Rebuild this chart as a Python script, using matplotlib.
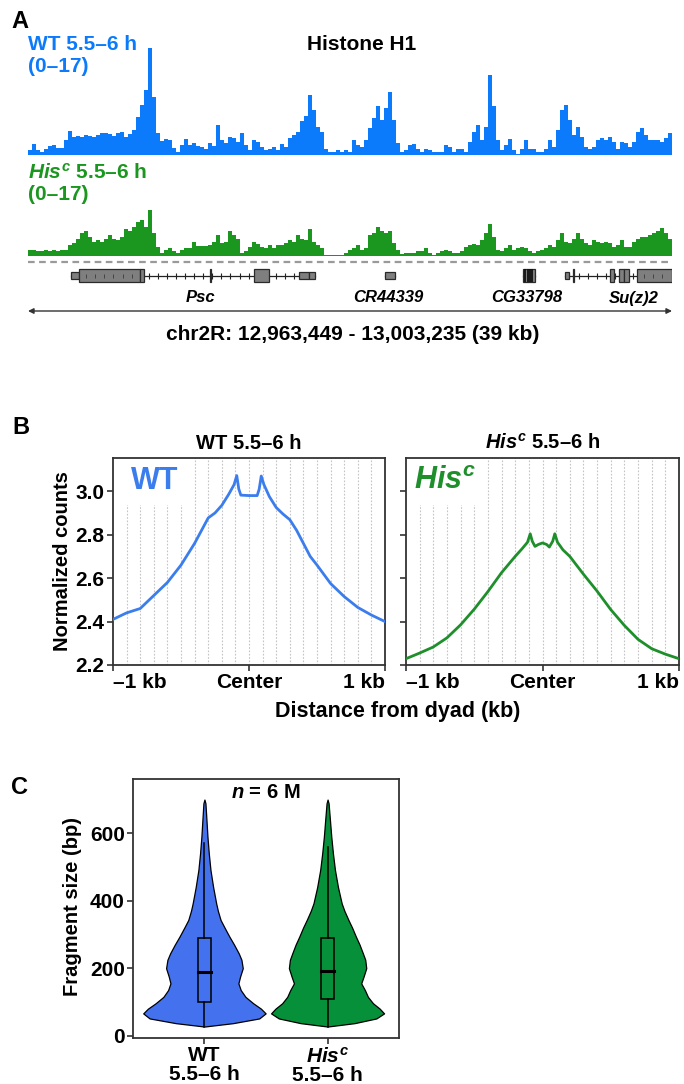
import numpy as np
import matplotlib
matplotlib.use('Agg')
import matplotlib.pyplot as plt
from matplotlib.patches import Rectangle

plt.rcParams['font.family'] = ['Liberation Sans', 'DejaVu Sans']
plt.rcParams['font.weight'] = 'bold'
plt.rcParams['mathtext.fontset'] = 'custom'
plt.rcParams['mathtext.it'] = 'Liberation Sans:italic:bold'
plt.rcParams['mathtext.rm'] = 'Liberation Sans:bold'
plt.rcParams['mathtext.bf'] = 'Liberation Sans:bold'

# ---- panel A data: coverage tracks (0-17 scale), 161 bins over the region
region_start = 12963449
region_end = 13003235
bin_bp = 247

wt_track = [0.85, 1.7, 0.8, 0.5, 0.9, 1.4, 1.5, 1.1, 1.1, 2.3,
            3.7, 2.8, 2.9, 2.8, 3.1, 2.9, 2.8, 3.1, 3.4, 3.4,
            3.3, 2.9, 3.4, 3.6, 2.8, 3.3, 3.9, 5.9, 7.8, 10.1,
            16.6, 9.0, 3.4, 2.2, 2.5, 2.3, 1.1, 0.5, 1.5, 2.5,
            1.5,
            1.8, 1.4, 1.2, 1.0, 1.8, 1.4, 4.6, 2.3, 1.8, 2.8,
            2.6, 2.0, 3.4, 1.5, 0.8, 2.3, 2.0, 1.3, 0.8, 0.9,
            1.3, 0.8, 1.7, 1.2, 2.6, 3.1, 3.6, 5.2, 6.0, 9.3,
            7.0, 4.4, 3.6, 1.0, 0.5, 0.5, 0.8, 0.5, 0.8, 0.5,
            2.3, 1.5, 1.3, 2.3, 4.1, 5.7, 7.5, 5.4, 7.2, 9.8,
            5.4, 1.8, 0.5, 0.8, 1.5, 1.7, 1.0, 0.5, 0.9, 0.8,
            0.4, 0.4, 0.5, 1.5, 1.3, 0.5, 0.9, 0.9, 0.5, 2.0,
            3.6, 4.6, 2.3, 4.4, 12.4, 7.5, 2.3, 0.8, 1.5, 2.5,
            0.8, 0.15, 1.0, 2.3, 1.0, 1.0, 0.5, 0.5, 1.0, 2.3,
            1.3, 3.9, 7.0, 7.8, 5.4, 3.1, 4.4, 2.8, 1.3, 1.0,
            1.3, 2.3, 2.6, 2.3, 2.8, 2.0, 1.0, 2.0, 1.8, 1.3,
            2.0, 3.6, 4.1, 3.1, 2.3, 2.3, 2.3, 2.0, 2.6, 3.4]

hisc_track = [1.0, 0.9, 0.8, 0.8, 0.9, 0.8, 0.9, 0.8, 0.9, 0.9,
              1.7, 2.0, 2.7, 3.5, 3.8, 3.0, 2.2, 2.5, 2.1, 2.6,
              3.2, 2.6, 2.5, 3.0, 4.1, 3.8, 4.5, 5.3, 5.5, 4.5,
              7.1, 3.5, 1.4, 0.4, 0.9, 1.2, 0.7, 0.5, 0.9, 1.3,
              1.3, 2.1, 1.5, 1.5, 1.5, 1.7, 2.1, 3.2, 2.0, 2.2,
              3.8, 3.2, 2.7, 0.4, 0.7, 1.4, 2.1, 1.9, 1.4, 1.2,
              1.7, 1.2, 1.7, 1.7, 2.0, 2.5, 2.2, 3.2, 2.7, 2.5,
              4.1, 2.2, 1.7, 1.2, 0.15, 0.15, 0.15, 0.15, 0.15, 0.4,
              0.9, 1.2,
              1.7, 0.9, 1.2, 3.2, 3.5, 4.5, 3.8, 3.5, 3.8, 2.0,
              0.9, 0.3, 0.4, 0.4, 0.5, 0.7, 0.8, 1.2, 0.4, 0.15,
              0.5, 0.7, 0.9, 0.7, 0.5, 0.5, 0.7, 1.4, 1.7, 1.8,
              1.7, 2.5, 3.5, 5.0, 3.0, 0.9, 0.7, 1.2, 1.7, 0.9,
              1.2, 1.4, 1.2, 0.7, 0.4, 0.7, 0.9, 1.2, 1.7, 1.4,
              2.5, 3.5, 2.2, 2.0, 2.7, 3.5, 2.7, 2.0, 1.7, 2.5,
              2.2, 2.0, 2.1, 2.0, 1.4, 1.7, 2.5, 1.4, 1.4, 2.2,
              2.7, 3.0, 3.0, 3.2, 3.5, 3.8, 4.3, 3.5, 2.7]

# genes: offsets (bp) from region start; exon = (start, end, tall)
gene_names = ['Psc', 'CR44339', 'CG33798', 'Su(z)2']
gene_spans = [(2687, 17712), (22055, 22698), (30581, 31304), (33151, 39786)]
gene_exons = [
    [(2687, 3151, 0), (3151, 6919, 1), (6919, 7191, 1), (11235, 11315, 1),
     (13987, 14870, 1), (16724, 17360, 0), (17360, 17712, 0)],
    [(22055, 22698, 0)],
    [(30581, 31304, 1)],
    [(33151, 33441, 0), (33652, 33712, 1), (35956, 36222, 1),
     (36512, 36830, 1), (36830, 37142, 1), (37605, 39786, 1)],
]
gene_label_x = [10660, 22240, 30810, 37420]

# ---- panel B data
dist_wt = [-1000, -900, -800, -700, -600, -500, -400, -300, -250, -200, -150, -110, -90,
           -75, -60, 0, 60, 75, 90, 110, 150, 200, 250, 300, 350, 400, 450, 500,
           600, 700, 800, 900, 1000]
counts_wt = [2.41, 2.44, 2.46, 2.52, 2.58, 2.66, 2.76, 2.877, 2.90, 2.935, 2.985, 3.03, 3.072,
             3.01, 2.982, 2.98, 2.98, 3.01, 3.07, 3.03, 2.975, 2.925, 2.895, 2.869, 2.82, 2.76,
             2.70, 2.66, 2.575, 2.515, 2.465, 2.43, 2.40]
dist_hisc = [-1000, -900, -800, -700, -600, -500, -400, -300, -200, -150, -110, -90, -75,
             -55, -30, 0, 30, 50, 75, 90, 110, 150, 200, 300, 400, 500, 600, 700, 800,
             900, 1000]
counts_hisc = [2.229, 2.255, 2.283, 2.325, 2.385, 2.457, 2.538, 2.625, 2.70, 2.735, 2.765,
               2.804, 2.77, 2.746, 2.755, 2.762, 2.755, 2.743, 2.77, 2.804, 2.765, 2.73,
               2.70, 2.618, 2.54, 2.455, 2.382, 2.318, 2.275, 2.25, 2.229]

# ---- panel C data: violin half-width profiles (relative) and box stats
frag_bp = [27, 37, 51, 66, 80, 96, 115, 135, 155, 175, 200, 225, 244, 270, 294, 320,
           343, 370, 392, 440, 491, 540, 590, 640, 689, 700]
dens_wt = [0, 85, 163, 182, 168, 145, 122, 108, 101, 106, 114, 110, 102, 88, 74, 60,
           48, 40, 35, 26, 18, 13, 9, 6, 3, 0]
dens_hisc = [0, 80, 145, 168, 155, 135, 120, 111, 100, 107, 115, 112, 105, 95, 84, 73,
             62, 50, 42, 31, 22, 16, 11, 7, 3, 0]
box_wt = dict(lo=27, q1=101, med=190, q3=289, hi=571)
box_hisc = dict(lo=27, q1=108, med=193, q3=289, hi=560)

blue_a = '#0b7bfb'
green_a = '#1b961f'
blue_b = '#3b7ded'
green_b = '#1f8f2b'
blue_c = '#4472ee'
green_c = '#06903a'
spine_c = '#333333'

W, H = 684, 1084
fig = plt.figure(figsize=(W / 100, H / 100), dpi=100)


def rect(x0, y0, x1, y1):
    return [x0 / W, 1 - y1 / H, (x1 - x0) / W, (y1 - y0) / H]


def ftext(x, y, s, **kw):
    fig.text(x / W, 1 - y / H, s, **kw)


# ================= Panel A =================
ftext(20, 21, 'A', fontsize=17, ha='center', va='center')
ftext(362, 44, 'Histone H1', fontsize=15, ha='center', va='center')
ftext(28, 45, 'WT 5.5–6 h', fontsize=15, color=blue_a, va='center')
ftext(28, 67, '(0–17)', fontsize=15, color=blue_a, va='center')
ftext(28, 173, r'$\mathit{His}^{\mathit{c}}$ 5.5–6 h', fontsize=15, color=green_a, va='center')
ftext(28, 194, '(0–17)', fontsize=15, color=green_a, va='center')

bin_x = region_start + np.arange(len(wt_track)) * bin_bp
for vals, col, box in [(wt_track, blue_a, (28, 45, 672, 155)),
                       (hisc_track, green_a, (28, 146, 672, 256))]:
    ax = fig.add_axes(rect(*box))
    ax.patch.set_alpha(0)
    ax.bar(bin_x, vals, width=bin_bp, align='edge', color=col, linewidth=0)
    ax.set_xlim(region_start, region_end)
    ax.set_ylim(0, 17)
    ax.axis('off')

axg = fig.add_axes(rect(28, 258, 672, 345))
axg.patch.set_alpha(0)
axg.set_xlim(region_start, region_end)
axg.set_ylim(345, 258)
axg.axis('off')
axg.plot([region_start, region_end], [262, 262], color='#9a9a9a', lw=1.6,
         ls=(0, (3, 2)))
yc = 275.5
for name, span, exons, lx in zip(gene_names, gene_spans, gene_exons, gene_label_x):
    s0, s1 = region_start + span[0], region_start + span[1]
    axg.plot([s0, s1], [yc, yc], color='#222222', lw=0.9, zorder=1)
    ticks = np.arange(s0 + 300, s1, 560)
    axg.plot(ticks, [yc] * len(ticks), ls='none', marker='|', ms=4, mew=0.8,
             color='#222222', zorder=1)
    for e0, e1, tall in exons:
        h = 13 if tall else 7.5
        axg.add_patch(Rectangle((region_start + e0, yc - h / 2), e1 - e0, h,
                                facecolor='#7f7f7f', edgecolor='#2a2a2a', lw=0.9, zorder=2))
        if tall and e1 - e0 > 1500:
            inner = np.arange(region_start + e0 + 450, region_start + e1 - 200, 560)
            axg.plot(inner, [yc] * len(inner), ls='none', marker='|', ms=3.5, mew=0.7,
                     color='#444444', zorder=3)
    if name == 'CG33798':
        stripes = np.linspace(s0 + 150, s1 - 150, 4)
        axg.vlines(stripes, yc - 6.5, yc + 6.5, color='#111111', lw=1.3, zorder=3)
    axg.text(region_start + lx, 298, name, fontsize=12, style='italic',
             ha='center', va='center')
axg.annotate('', xy=(region_start, 311), xytext=(region_end, 311),
             arrowprops=dict(arrowstyle='<|-|>', color='#333333', lw=1.0,
                             mutation_scale=8, shrinkA=0, shrinkB=0))
ftext(353, 335, 'chr2R: 12,963,449 - 13,003,235 (39 kb)', fontsize=15,
      ha='center', va='center')

# ================= Panel B =================
ftext(21, 428, 'B', fontsize=17, ha='center', va='center')
panels = [(dist_wt, counts_wt, blue_b, (113, 458, 385, 665), 'WT 5.5–6 h', 'WT', -690),
          (dist_hisc, counts_hisc, green_b, (406, 458, 679, 665),
           r'$\mathit{His}^{\mathit{c}}$ 5.5–6 h', r'$\mathit{His}^{\mathit{c}}$', -715)]
for i, (dx, dy, col, box, title, tag, tag_x) in enumerate(panels):
    ax = fig.add_axes(rect(*box))
    for gx in range(-900, 1000, 100):
        ax.axvline(gx, color='#c4c4c4', lw=0.8, ls=(0, (1.5, 1.5)), zorder=0)
    ax.plot(dx, dy, color=col, lw=2.0, zorder=3)
    ax.set_xlim(-1000, 1000)
    ax.set_ylim(2.2, 3.153)
    ax.set_yticks([2.2, 2.4, 2.6, 2.8, 3.0])
    ax.set_xticks([-1000, 0, 1000])
    ax.set_xticklabels(['–1 kb', 'Center', '1 kb'], fontsize=15)
    labs = ax.get_xticklabels()
    labs[0].set_ha('left')
    labs[2].set_ha('right')
    if i == 0:
        ax.set_yticklabels(['2.2', '2.4', '2.6', '2.8', '3.0'], fontsize=15)
    else:
        ax.set_yticklabels([])
    ax.tick_params(direction='out', length=4, width=1.2, color=spine_c, pad=2)
    for sp in ax.spines.values():
        sp.set_color(spine_c)
        sp.set_linewidth(1.3)
    ax.text(tag_x, 3.045, tag, fontsize=22, color=col, ha='center', va='center',
            zorder=1, clip_on=True,
            bbox=dict(facecolor='white', edgecolor='none', pad=6))
    ftext((box[0] + box[2]) / 2, 443, title, fontsize=14.5, ha='center', va='center')
ftext(62, 561, 'Normalized counts', fontsize=14.5, rotation=90, ha='center', va='center')
ftext(398, 712, 'Distance from dyad (kb)', fontsize=15.5, ha='center', va='center')

# ================= Panel C =================
ftext(20, 787, 'C', fontsize=17, ha='center', va='center')
axc = fig.add_axes(rect(133, 779, 399, 1038))
for pos, dens, box, col in [(1, dens_wt, box_wt, blue_c), (2, dens_hisc, box_hisc, green_c)]:
    half = np.array(dens) / 182 * 0.497
    axc.fill_betweenx(frag_bp, pos - half, pos + half, facecolor=col,
                      edgecolor='black', lw=0.9, zorder=2)
    axc.plot([pos, pos], [box['lo'], box['q1']], color='black', lw=1.1, zorder=3)
    axc.plot([pos, pos], [box['q3'], box['hi']], color='black', lw=1.1, zorder=3)
    axc.add_patch(Rectangle((pos - 0.05, box['q1']), 0.1, box['q3'] - box['q1'],
                            facecolor='none', edgecolor='black', lw=1.1, zorder=3))
    axc.plot([pos - 0.05, pos + 0.05], [box['med'], box['med']], color='black',
             lw=2.2, zorder=4)
axc.set_xlim(0.42, 2.58)
axc.set_ylim(-7, 761)
axc.set_yticks([0, 200, 400, 600])
axc.set_yticklabels(['0', '200', '400', '600'], fontsize=15)
axc.set_xticks([1, 2])
axc.set_xticklabels(['WT\n5.5–6 h', r'$\mathit{His}^{\mathit{c}}$' + '\n5.5–6 h'],
                    fontsize=15, linespacing=1.0)
axc.tick_params(direction='out', length=4, width=1.2, color=spine_c, pad=2)
for sp in axc.spines.values():
    sp.set_color(spine_c)
    sp.set_linewidth(1.3)
ftext(266, 792, r'$\mathit{n}$ = 6 M', fontsize=14.5, ha='center', va='center')
ftext(72, 907, 'Fragment size (bp)', fontsize=14.5, rotation=90, ha='center', va='center')

fig.savefig('out.png', dpi=100)
